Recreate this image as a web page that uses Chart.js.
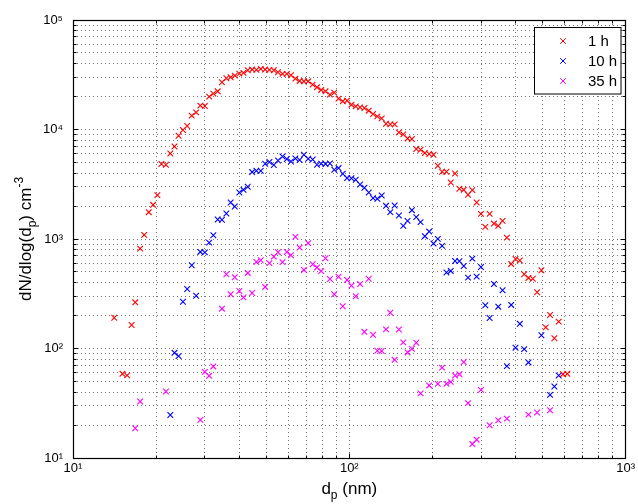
<!DOCTYPE html>
<html><head><meta charset="utf-8">
<script src="https://cdn.jsdelivr.net/npm/chart.js@4/dist/chart.umd.min.js"></script>
<style>html,body{margin:0;padding:0;background:#fff;}canvas{display:block;}</style>
</head><body>
<canvas id="c" width="638" height="504"></canvas>
<script>
// ---- data ----
const seriesLabels = ['1 h', '10 h', '35 h'];
const seriesColors = ['#ff0000', '#0000ff', '#ff00ff'];

const sizes1h = [14.1, 15.1, 15.7, 16.3, 16.8, 17.5, 18.1, 18.8, 19.5, 20.2, 20.9, 21.7, 22.5, 23.3, 24.1, 25.0, 25.9, 26.9, 27.9, 28.9, 30.0, 31.1, 32.2, 33.4, 34.6, 35.9, 37.2, 38.5, 40.0, 41.4, 42.9, 44.5, 46.1, 47.8, 49.6, 51.4, 53.3, 55.2, 57.3, 59.4, 61.5, 63.8, 66.1, 68.5, 71.0, 73.7, 76.4, 79.1, 82.0, 85.1, 88.2, 91.4, 94.7, 98.2, 101.8, 105.5, 109.4, 113.4, 117.6, 121.9, 126.3, 131.0, 135.8, 140.7, 145.9, 151.2, 156.8, 162.5, 168.5, 174.7, 181.1, 187.7, 194.6, 201.7, 209.1, 216.7, 224.7, 232.9, 241.4, 250.3, 259.5, 269.0, 278.8, 289.0, 299.6, 310.6, 322.0, 333.8, 346.0, 358.7, 371.8, 385.4, 399.5, 414.2, 429.4, 445.1, 461.4, 478.3, 495.8, 514.0, 532.8, 552.3, 572.5, 593.5, 615.3];
const values1h = [191, 58.7, 56.8, 164, 264, 817, 1090, 1758, 2051, 2517, 4835, 4764, 6043, 7003, 8777, 9894, 10770, 13380, 14340, 16510, 16400, 19950, 21260, 22320, 26980, 29350, 29980, 31060, 32400, 32890, 34730, 35250, 35030, 35770, 35250, 35030, 34730, 33300, 32200, 32200, 31260, 29160, 27780, 27540, 27540, 25700, 24280, 22980, 22320, 20820, 21720, 19130, 18080, 18340, 16860, 16270, 15930, 15730, 14860, 13860, 13180, 12640, 11300, 11140, 11140, 9408, 9020, 8290, 8188, 6630, 6535, 6095, 5967, 5880, 4665, 4110, 4110, 3281, 3966, 2873, 2813, 2533, 2796, 2153, 1697, 1290, 1697, 1383, 1318, 1464, 1030, 592, 657, 637, 476, 441, 434, 326, 518, 156, 202, 124, 176, 58.3, 58.7];

const sizes10h = [22.5, 23.3, 24.1, 25.0, 25.9, 26.9, 27.9, 28.9, 30.0, 31.1, 32.2, 33.4, 34.6, 35.9, 37.2, 38.5, 40.0, 41.4, 42.9, 44.5, 46.1, 47.8, 49.6, 51.4, 53.3, 55.2, 57.3, 59.4, 61.5, 63.8, 66.1, 68.5, 71.0, 73.7, 76.4, 79.1, 82.0, 85.1, 88.2, 91.4, 94.7, 98.2, 101.8, 105.5, 109.4, 113.4, 117.6, 121.9, 126.3, 131.0, 135.8, 140.7, 145.9, 151.2, 156.8, 162.5, 168.5, 174.7, 181.1, 187.7, 194.6, 201.7, 209.1, 216.7, 224.7, 232.9, 241.4, 250.3, 259.5, 269.0, 278.8, 289.0, 299.6, 310.6, 322.0, 333.8, 346.0, 358.7, 371.8, 385.4, 399.5, 414.2, 429.4, 445.1, 495.8, 532.8, 552.3, 572.5];
const values10h = [24.7, 91.3, 85.2, 267.5, 349.5, 576, 303.5, 762, 755, 927, 1083, 1505, 1500, 1708, 2153, 1979, 2658, 2813, 2998, 4085, 4198, 4190, 4866, 5044, 4734, 5216, 5674, 5372, 5107, 5440, 5260, 5880, 5405, 5326, 4764, 4866, 4850, 4897, 4288, 4444, 3940, 3600, 3590, 3473, 3146, 2935, 2658, 2362, 2328, 2495, 2009, 1759, 2021, 1637, 1318, 1464, 1834, 1583, 1425, 1061, 1169, 908, 1002, 865, 495, 511, 630, 628, 567, 444, 662, 453, 555, 248, 190, 388, 241, 340, 69.0, 250, 101.5, 168, 98.7, 74.6, 132, 37.7, 45.0, 56.7];

const sizes35h = [16.8, 17.5, 21.7, 28.9, 30.0, 31.1, 32.2, 34.6, 35.9, 37.2, 38.5, 40.0, 41.4, 42.9, 44.5, 46.1, 47.8, 49.6, 51.4, 53.3, 55.2, 57.3, 59.4, 61.5, 63.8, 66.1, 68.5, 71.0, 73.7, 76.4, 79.1, 82.0, 85.1, 88.2, 91.4, 94.7, 98.2, 101.8, 105.5, 109.4, 113.4, 117.6, 121.9, 126.3, 131.0, 135.8, 140.7, 145.9, 151.2, 156.8, 162.5, 168.5, 174.7, 181.1, 194.6, 209.1, 216.7, 224.7, 232.9, 241.4, 250.3, 259.5, 269.0, 278.8, 289.0, 299.6, 322.0, 346.0, 371.8, 445.1, 478.3, 532.8];
const values35h = [18.7, 32.8, 40.5, 22.3, 61.2, 56.3, 68.6, 231, 476, 313, 447, 335, 293, 490, 321, 617, 640, 365, 602, 690, 757, 615, 760, 711, 1045, 834, 522, 917, 588, 550, 509, 667, 431, 313, 452, 243, 423, 375, 300, 388, 142, 434, 133.5, 95.3, 95, 149.5, 212, 78.8, 149, 113.7, 92.1, 99.4, 113, 38.9, 46.0, 47.5, 66.9, 47.5, 49.6, 56.7, 58.3, 75.1, 31.7, 13.4, 14.7, 41.9, 19.9, 22.1, 22.9, 24.9, 26.0, 27.3];

const xTicks = [10, 20, 30, 40, 50, 60, 70, 80, 90, 100, 200, 300, 400, 500, 600, 700, 800, 900, 1000];
const yTicks = [10, 20, 30, 40, 50, 60, 70, 80, 90, 100, 200, 300, 400, 500, 600, 700, 800, 900,
  1000, 2000, 3000, 4000, 5000, 6000, 7000, 8000, 9000, 10000, 20000, 30000, 40000, 50000, 60000, 70000, 80000, 90000, 100000];

// ---- helpers ----
const FONT = '"Liberation Sans", Arial, Helvetica, sans-serif';
const SUP = {'0':'⁰','1':'¹','2':'²','3':'³','4':'⁴','5':'⁵','6':'⁶','7':'⁷','8':'⁸','9':'⁹'};
function isPow10(v) { const l = Math.log10(v); return Math.abs(l - Math.round(l)) < 1e-9; }
function powLabel(v) {
  if (!isPow10(v)) return '';
  return '10' + String(Math.round(Math.log10(v))).split('').map(c => SUP[c]).join('');
}
function pts(xs, ys) { return xs.map((x, i) => ({x: x, y: ys[i]})); }

const allSizes = [sizes1h, sizes10h, sizes35h];
const allValues = [values1h, values10h, values35h];

function drawRich(ctx, parts, x, y, align) {
  let total = 0;
  parts.forEach(p => { ctx.font = p.size + 'px ' + FONT; p.w = ctx.measureText(p.t).width; total += p.w; });
  let cx = align === 'center' ? x - total / 2 : x;
  ctx.textAlign = 'left';
  ctx.textBaseline = 'alphabetic';
  parts.forEach(p => { ctx.font = p.size + 'px ' + FONT; ctx.fillText(p.t, cx, y + p.dy); cx += p.w; });
}

const decorations = {
  id: 'decorations',
  afterDraw(chart) {
    const {ctx, chartArea: a, scales: {x, y}} = chart;
    const al = v => Math.round(v - 0.5) + 0.5;
    const L = al(a.left), R = al(a.right), T = al(a.top), B = al(a.bottom);
    ctx.save();
    ctx.strokeStyle = '#000';
    ctx.lineWidth = 1;
    ctx.setLineDash([]);
    // inward tick marks on all four sides
    ctx.beginPath();
    xTicks.forEach(v => {
      const p = al(x.getPixelForValue(v));
      const len = isPow10(v) ? 5 : 3;
      ctx.moveTo(p, B); ctx.lineTo(p, B - len);
      ctx.moveTo(p, T); ctx.lineTo(p, T + len);
    });
    yTicks.forEach(v => {
      const p = al(y.getPixelForValue(v));
      const len = isPow10(v) ? 5 : 3;
      ctx.moveTo(L, p); ctx.lineTo(L + len, p);
      ctx.moveTo(R, p); ctx.lineTo(R - len, p);
    });
    ctx.stroke();
    // frame
    ctx.lineWidth = 1.2;
    ctx.strokeRect(L, T, R - L, B - T);
    ctx.lineWidth = 1;

    // legend
    const lx = 534.5, ly = 27.5, lw = 86.5, lh = 66.5;
    ctx.fillStyle = '#fff';
    ctx.fillRect(lx, ly, lw, lh);
    ctx.strokeRect(lx, ly, lw, lh);
    chart.data.datasets.forEach((ds, i) => {
      const cy = 41 + i * 20;
      const r = 2.8;
      ctx.strokeStyle = ds.borderColor;
      ctx.beginPath();
      ctx.moveTo(563 - r, cy - r); ctx.lineTo(563 + r, cy + r);
      ctx.moveTo(563 - r, cy + r); ctx.lineTo(563 + r, cy - r);
      ctx.stroke();
      ctx.fillStyle = '#000';
      ctx.font = '15px ' + FONT;
      ctx.textAlign = 'left';
      ctx.textBaseline = 'middle';
      ctx.fillText(ds.label, 588, cy + 1);
    });

    // axis titles (with sub/superscripts)
    ctx.fillStyle = '#000';
    drawRich(ctx, [
      {t: 'd', size: 17, dy: 0},
      {t: 'p', size: 12, dy: 5},
      {t: ' (nm)', size: 17, dy: 0}
    ], (a.left + a.right) / 2, 494, 'center');

    ctx.save();
    ctx.translate(31, (a.top + a.bottom) / 2);
    ctx.rotate(-Math.PI / 2);
    drawRich(ctx, [
      {t: 'dN/dlog(d', size: 17, dy: 0},
      {t: 'p', size: 12, dy: 5},
      {t: ') cm', size: 17, dy: 0},
      {t: '-3', size: 12, dy: -8}
    ], 0, 0, 'center');
    ctx.restore();
    ctx.restore();
  }
};

const datasets = seriesLabels.map((lab, i) => ({
  label: lab,
  data: pts(allSizes[i], allValues[i]),
  borderColor: seriesColors[i],
  backgroundColor: seriesColors[i],
  pointStyle: 'crossRot',
  pointRadius: 4,
  pointBorderWidth: 1.1,
  pointHoverRadius: 4,
  showLine: false
}));

function axisCommon(ticksArr) {
  return {
    type: 'logarithmic',
    afterBuildTicks: s => { s.ticks = ticksArr.map(v => ({value: v, major: isPow10(v)})); },
    grid: {color: 'rgba(0,0,0,0.55)', lineWidth: 1, drawTicks: false},
    border: {display: false, dash: [1, 3]},
    ticks: {
      autoSkip: false, maxRotation: 0, minRotation: 0,
      color: '#000', font: {family: FONT, size: 13},
      callback: v => powLabel(v)
    }
  };
}

const xAxis = axisCommon(xTicks);
xAxis.min = 10; xAxis.max = 1000; xAxis.position = 'bottom';
xAxis.ticks.padding = 3;
xAxis.afterFit = s => { s.height = 46; };

const yAxis = axisCommon(yTicks);
yAxis.min = 10; yAxis.max = 100000; yAxis.position = 'left';
yAxis.ticks.padding = 10;
yAxis.afterFit = s => { s.width = 73; };

new Chart(document.getElementById('c'), {
  type: 'scatter',
  data: {datasets: datasets},
  options: {
    responsive: false,
    animation: false,
    devicePixelRatio: 1,
    layout: {padding: {left: 0, right: 11, top: 20, bottom: 0}},
    plugins: {legend: {display: false}, tooltip: {enabled: false}, title: {display: false}},
    scales: {x: xAxis, y: yAxis}
  },
  plugins: [decorations]
});
</script>
</body></html>
